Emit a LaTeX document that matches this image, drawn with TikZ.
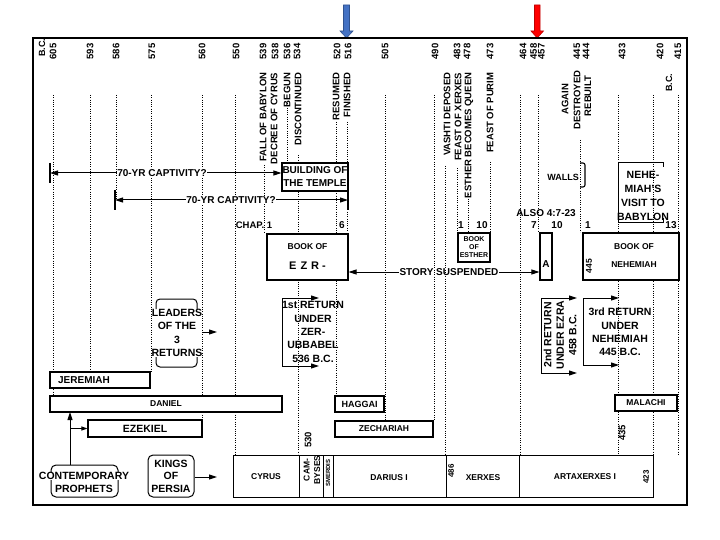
\documentclass[tikz,border=0pt]{standalone}
\usepackage{fontspec}
\setmainfont{Liberation Sans}
\usetikzlibrary{arrows.meta}

\definecolor{ptrblue}{RGB}{68,114,196}
\definecolor{ptrblueedge}{RGB}{47,82,143}
\definecolor{ptrred}{RGB}{255,0,0}
\definecolor{ptrrededge}{RGB}{190,0,0}

\tikzset{
  every node/.style={inner sep=0.5pt, font=\bfseries\fontsize{10}{13}\selectfont},
  yr/.style={rotate=90, anchor=east, font=\bfseries\fontsize{9.5}{11}\selectfont},
  evt/.style={rotate=90, anchor=east, font=\bfseries\fontsize{9.5}{11}\selectfont},
  dots/.style={line width=0.7pt, dash pattern=on 0.7pt off 1.6pt},
  barbox/.style={draw, line width=1.1pt, fill=white, inner sep=0pt},
  kingcell/.style={draw, line width=1pt, minimum height=42pt, inner sep=0pt},
  lblsm/.style={font=\bfseries\fontsize{8.5}{10}\selectfont},
  lblbig/.style={align=center, font=\bfseries\fontsize{10.5}{13.3}\selectfont},
  arr/.style={line width=1pt, -{Triangle[length=8pt,width=5pt]}},
  bracepath/.style={line width=1pt, rounded corners=4pt},
}

\begin{document}
\begin{tikzpicture}[x=1pt, y=-1pt]
\useasboundingbox (0,0) rectangle (720,540);

% pointers above the chart
\filldraw[fill=ptrblue, draw=ptrblueedge, line width=0.6pt]
  (343.5,5) -- (349.5,5) -- (349.5,31) -- (353,31) -- (346.5,38) -- (340,31) -- (343.5,31) -- cycle;
\filldraw[fill=ptrred, draw=ptrrededge, line width=0.6pt]
  (534.5,5) -- (540,5) -- (540,31) -- (543.5,31) -- (537.2,38) -- (531,31) -- (534.5,31) -- cycle;

% frame
\draw[line width=1.2pt] (33,38) rectangle (687,505);
\draw[line width=2.6pt] (32,38) -- (688,38);

% years
\node[yr, font=\bfseries\fontsize{9}{10}\selectfont] (bc1) at (42,38) {B.C.};
\node[yr, font=\bfseries\fontsize{9}{10}\selectfont] (bc2) at (669,73) {B.C.};
\foreach \x/\t in {53/605,90/593,116/586,152/575,202/560,236/550,263/539,275/538,287/536,297/534,
                   337/520,348/516,385/505,435/490,457/483,467/478,490/473,523/464,533.5/458,541.5/457,
                   577/445,586/444,622/433,660/420,678/415}
  \node[yr] (y\t) at (\x,43) {\t};

% events
\node[evt] (ev1) at (263,72) {FALL OF BABYLON};
\node[evt] (ev2) at (274,72) {DECREE OF CYRUS};
\node[evt] (ev3) at (287,72) {BEGUN};
\node[evt] (ev4) at (298,72) {DISCONTINUED};
\node[evt] (ev5) at (336,72) {RESUMED};
\node[evt] (ev6) at (347,72) {FINISHED};
\node[evt] (ev7) at (447,72) {VASHTI DEPOSED};
\node[evt] (ev8) at (458,72) {FEAST OF XERXES};
\node[evt] (ev9) at (469,72) {ESTHER BECOMES QUEEN};
\node[evt] (ev10) at (490,72) {FEAST OF PURIM};
\node[evt] (ev11) at (565,83) {AGAIN};
\node[evt] (ev12) at (577,70) {DESTROYED};
\node[evt] (ev13) at (588,75) {REBUILT};

% dotted year lines
\foreach \x/\a/\b in {53/95/396, 90/95/372, 116/95/200, 151/95/372, 202/95/420, 235/95/454,
                      264/165/232, 287/103/163, 298/155/454, 336/122/396, 347/122/232,
                      385/95/420, 434/95/420, 445/166/454, 457/168/232, 468/194/232, 490/162/232,
                      520/95/454, 538/95/232, 580/140/232, 618/95/395, 618/412/454, 653/95/454, 678/95/454}
  \draw[dots] (\x,\a) -- (\x,\b);

% temple and captivity
\node[barbox, minimum width=66pt, minimum height=28pt, align=center] (temple) at (315,177) {BUILDING OF\\THE TEMPLE};
\node[fill=white] (cap1) at (162,173) {70-YR CAPTIVITY?};
\coordinate (cap1l) at (50,173);
\draw[arr] (cap1.west) -- (cap1l);
\draw[line width=1.2pt] (cap1l) ++(0,-10) -- ++(0,20);
\draw[arr] (cap1.east) -- (cap1.east -| temple.west);

\node[fill=white] (cap2) at (231,200) {70-YR CAPTIVITY?};
\coordinate (cap2l) at (115,200);
\coordinate (cap2r) at (348,200);
\draw[arr] (cap2.west) -- (cap2l);
\draw[arr] (cap2.east) -- (cap2r);
\draw[line width=1.2pt] (cap2l) ++(0,-10) -- ++(0,20);
\draw[line width=1.2pt] (cap2r) ++(0,-10) -- ++(0,20);

% chapter marks
\node[font=\bfseries\fontsize{9.5}{11}\selectfont] (chap) at (254,225) {CHAP. 1};
\node (ch6) at (342,225) {6};
\node (es1) at (461,225) {1};
\node (es10) at (482,225) {10};
\node (also) at (546,213) {ALSO 4:7-23};
\node (ez7) at (534,225) {7};
\node (ez10) at (557,225) {10};
\node (ne1) at (588,225) {1};
\node (ne13) at (671,225) {13};

% books
\node[barbox, minimum width=81pt, minimum height=46pt] (ezra) at (307.5,257) {};
\node[lblsm] (ezra1) at (307.5,247) {BOOK OF};
\node[font=\bfseries\fontsize{11}{13}\selectfont] (ezra2) at (307.5,266) {E\hspace{4pt}Z\hspace{4pt}R\hspace{3pt}-};
\node[barbox, minimum width=32pt, minimum height=29pt, align=center,
      font=\bfseries\fontsize{7}{8}\selectfont] (esther) at (474,247.5) {BOOK\\OF\\ESTHER};
\node[barbox, minimum width=12pt, minimum height=47pt] (abox) at (546,256.5) {};
\node (alab) at (546,264) {A};
\node[barbox, minimum width=96pt, minimum height=47pt] (nehbook) at (631,256.5) {};
\node[lblsm] (neh1) at (634,247) {BOOK OF};
\node[lblsm] (neh2) at (634,265) {NEHEMIAH};
\node[lblsm, rotate=90] (neh3) at (589,266) {445};

\node (story) at (449,272) {STORY SUSPENDED};
\draw[arr] (story.west) -- (story.west -| ezra.east);
\draw[arr] (story.east) -- (story.east -| abox.west);

% walls and visit
\node[font=\bfseries\fontsize{9}{11}\selectfont] (walls) at (563,177) {WALLS};
\draw[line width=1.1pt, rounded corners=2pt] (580,163) -- (585,163) -- (585,187) -- (580,187);
\node[lblbig, font=\bfseries\fontsize{10.5}{14}\selectfont] (visit) at (643,196) {NEHE-\\MIAH'S\\VISIT TO\\BABYLON};
\draw[line width=1pt] (663,167) -- (663,163) -- (618,163) -- (618,223) -- (663,223) -- (663,218);

% leaders of the returns
\node[lblbig] (leaders) at (177,333) {LEADERS\\OF THE\\3\\RETURNS};
\draw[bracepath] (156,309) -- (156,299) -- (197,299) -- (197,309);
\draw[bracepath] (156,357) -- (156,367) -- (197,367) -- (197,357);
\coordinate (leadtip) at (217,332);
\draw[arr] (leaders.east |- leadtip) -- (leadtip);

\node[lblbig] (ret1) at (313,332) {1st RETURN\\UNDER\\ZER-\\UBBABEL\\536 B.C.};
\draw[line width=1pt] (282,298) -- (282,366);
\draw[arr] (282,298) -- ++(37,0);
\draw[arr] (282,366) -- ++(37,0);

\node[lblbig, rotate=90, font=\bfseries\fontsize{10.5}{12.5}\selectfont] (ret2) at (560,335) {2nd RETURN\\UNDER EZRA\\458 B.C.};
\draw[line width=1pt] (541,298) -- (541,373);
\draw[arr] (541,298) -- ++(36,0);
\draw[arr] (541,373) -- ++(36,0);

\node[lblbig] (ret3) at (620,332) {3rd RETURN\\UNDER\\NEHEMIAH\\445 B.C.};
\draw[line width=1pt] (583,298) -- (583,365);
\draw[arr] (583,298) -- ++(36,0);
\draw[arr] (583,365) -- ++(36,0);

% prophets
\node[barbox, minimum width=100pt, minimum height=16pt] (jer) at (100,380) {};
\node (jerlab) at (84,380) {JEREMIAH};
\node[barbox, lblsm, minimum width=232pt, minimum height=16pt] (daniel) at (166,404) {DANIEL};
\node[barbox, font=\bfseries\fontsize{10.5}{12}\selectfont, minimum width=114pt, minimum height=17pt] (ezekiel) at (145,428.5) {EZEKIEL};
\node[barbox, font=\bfseries\fontsize{9}{10}\selectfont, minimum width=49pt, minimum height=16pt] (haggai) at (359.5,404) {HAGGAI};
\node[barbox, lblsm, minimum width=98pt, minimum height=16pt] (zech) at (384,429) {ZECHARIAH};
\node[barbox, lblsm, minimum width=62pt, minimum height=16pt] (malachi) at (646,403) {MALACHI};

\node[draw, line width=1pt, rounded corners=5pt, minimum width=67pt, minimum height=32pt] (prophets) at (84.5,481) {};
\node[fill=white, font=\bfseries\fontsize{10.5}{12}\selectfont] (contemp) at (84,476) {CONTEMPORARY};
\node[font=\bfseries\fontsize{10.5}{12}\selectfont] (proph) at (84,489) {PROPHETS};
\coordinate (daniup) at (70,412);
\draw[arr] (daniup |- prophets.north) -- (daniup);
\draw[line width=1pt, -{Triangle[length=6pt,width=4pt]}] (daniup |- ezekiel.west) -- (ezekiel.west);

% kings of persia
\node[draw, line width=1pt, rounded corners=5pt, minimum width=46pt, minimum height=42pt, align=center,
      font=\bfseries\fontsize{10.5}{12.5}\selectfont] (kings) at (171,476) {KINGS\\OF\\PERSIA};
\coordinate (kingtip) at (217,477);
\draw[arr] (kings.east |- kingtip) -- (kingtip);

\node[kingcell, minimum width=66pt] (cyrus) at (266,476) {};
\node[kingcell, minimum width=24pt] (camb) at (311,476) {};
\node[kingcell, minimum width=10pt] (smerdis) at (328,476) {};
\node[kingcell, minimum width=113pt] (darius) at (389.5,476) {};
\node[kingcell, minimum width=73pt] (xerxes) at (482.5,476) {};
\node[kingcell, minimum width=134pt] (artax) at (586,476) {};

\node[lblsm] (cyruslab) at (266,477) {CYRUS};
\node[rotate=90, align=center, font=\bfseries\fontsize{8.5}{10.5}\selectfont] (camblab) at (312,470) {CAM-\\BYSES};
\node[rotate=90, font=\bfseries\fontsize{6}{7}\selectfont] (smerdislab) at (328,473) {SMERDIS};
\node[lblsm] (dariuslab) at (389,478) {DARIUS I};
\node[rotate=90, font=\bfseries\fontsize{8}{9}\selectfont] (y486) at (451,471) {486};
\node[lblsm] (xerxeslab) at (483,478) {XERXES};
\node[lblsm] (artaxlab) at (585,477) {ARTAXERXES I};
\node[rotate=90, font=\bfseries\fontsize{8}{9}\selectfont] (y423) at (646,477) {423};
\node[rotate=90, font=\bfseries\fontsize{9.5}{11}\selectfont] (y530) at (308,440) {530};
\node[rotate=90, font=\bfseries\fontsize{9.5}{11}\selectfont] (y435) at (622,433) {435};

\end{tikzpicture}
\end{document}
